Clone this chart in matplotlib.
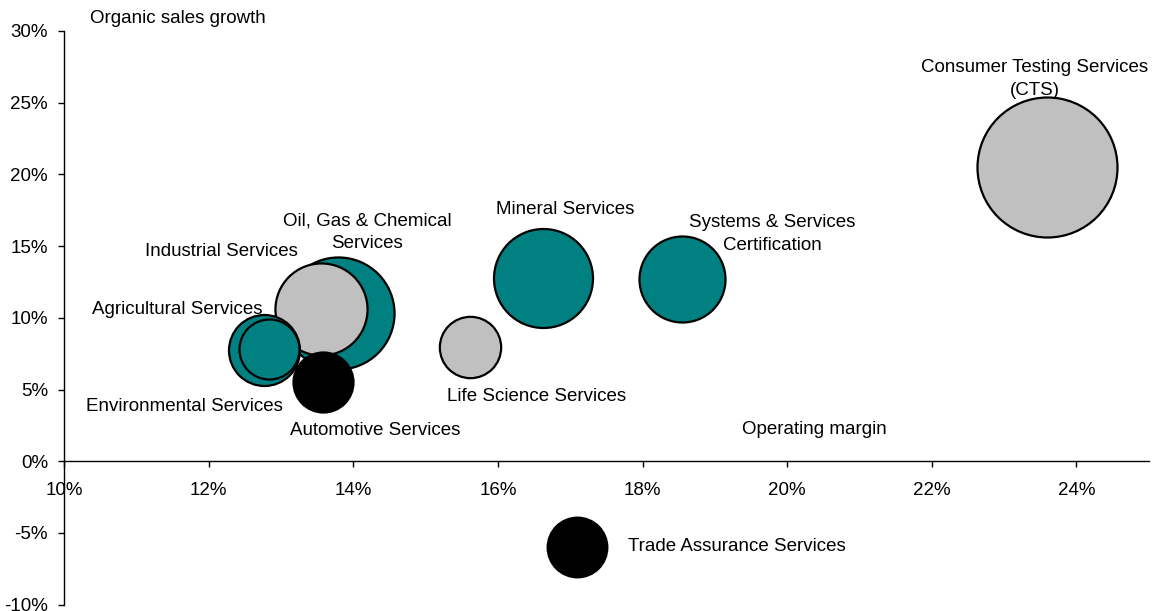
import matplotlib.pyplot as plt
from matplotlib.ticker import FuncFormatter

plt.rcParams['font.family'] = ['Liberation Sans', 'DejaVu Sans']

# divisions: operating margin (%), organic sales growth (%), bubble size
names = ["Trade Assurance Services", "Life Science Services", "Mineral Services",
         "Systems & Services\nCertification", "Consumer Testing Services\n(CTS)",
         "Oil, Gas & Chemical\nServices", "Industrial Services", "Agricultural Services",
         "Environmental Services", "Automotive Services"]
margin = [17.09, 15.61, 16.62, 18.54, 23.59, 13.79, 13.55, 12.77, 12.83, 13.58]
growth = [-5.96, 7.97, 12.78, 12.73, 20.52, 10.32, 10.62, 7.73, 7.82, 5.55]
size = [8.9, 9.4, 24.5, 18.5, 49.0, 31.4, 21.2, 12.6, 9.0, 9.0]
group = ["black", "grey", "teal", "teal", "grey", "teal", "grey", "teal", "teal", "black"]

colors = {"teal": "#008080", "grey": "#C0C0C0", "black": "#000000"}

# where each division name sits (data coords)
label_xy = [(19.31, -5.95), (16.54, 4.5), (16.93, 17.53), (19.80, 15.85),
            (23.42, 26.65), (14.19, 15.95), (12.18, 14.6), (11.56, 10.58),
            (11.66, 3.8), (14.30, 2.12)]

fig = plt.figure(figsize=(11.52, 6.11), dpi=100)
ax = fig.add_axes([0.0556, 0.0103, 0.9415, 0.939])

for i in range(len(names)):
    ax.scatter(margin[i], growth[i], s=size[i] * 207.4, color=colors[group[i]],
               edgecolor="black", linewidth=1.6, zorder=2 + i)
    ax.text(label_xy[i][0], label_xy[i][1], names[i], ha="center", va="center",
            fontsize=13.5, linespacing=1.45, zorder=20)

ax.text(10.36, 30.9, "Organic sales growth", ha="left", va="center", fontsize=13.5, clip_on=False)
ax.text(20.37, 2.21, "Operating margin", ha="center", va="center", fontsize=13.5)

ax.set_xlim(10, 25)
ax.set_ylim(-10, 30)
ax.set_xticks(range(10, 25, 2))
ax.set_yticks(range(-10, 31, 5))
pct = FuncFormatter(lambda v, p: f"{v:.0f}%")
ax.xaxis.set_major_formatter(pct)
ax.yaxis.set_major_formatter(pct)

ax.spines["top"].set_visible(False)
ax.spines["right"].set_visible(False)
ax.spines["bottom"].set_position(("data", 0))
for s in ("left", "bottom"):
    ax.spines[s].set_linewidth(1.0)
ax.tick_params(axis="x", direction="out", length=4, width=1, pad=11, labelsize=13.5)
ax.tick_params(axis="y", direction="out", length=4.5, width=1, pad=7, labelsize=13.5)

fig.savefig("out.png", dpi=100)
